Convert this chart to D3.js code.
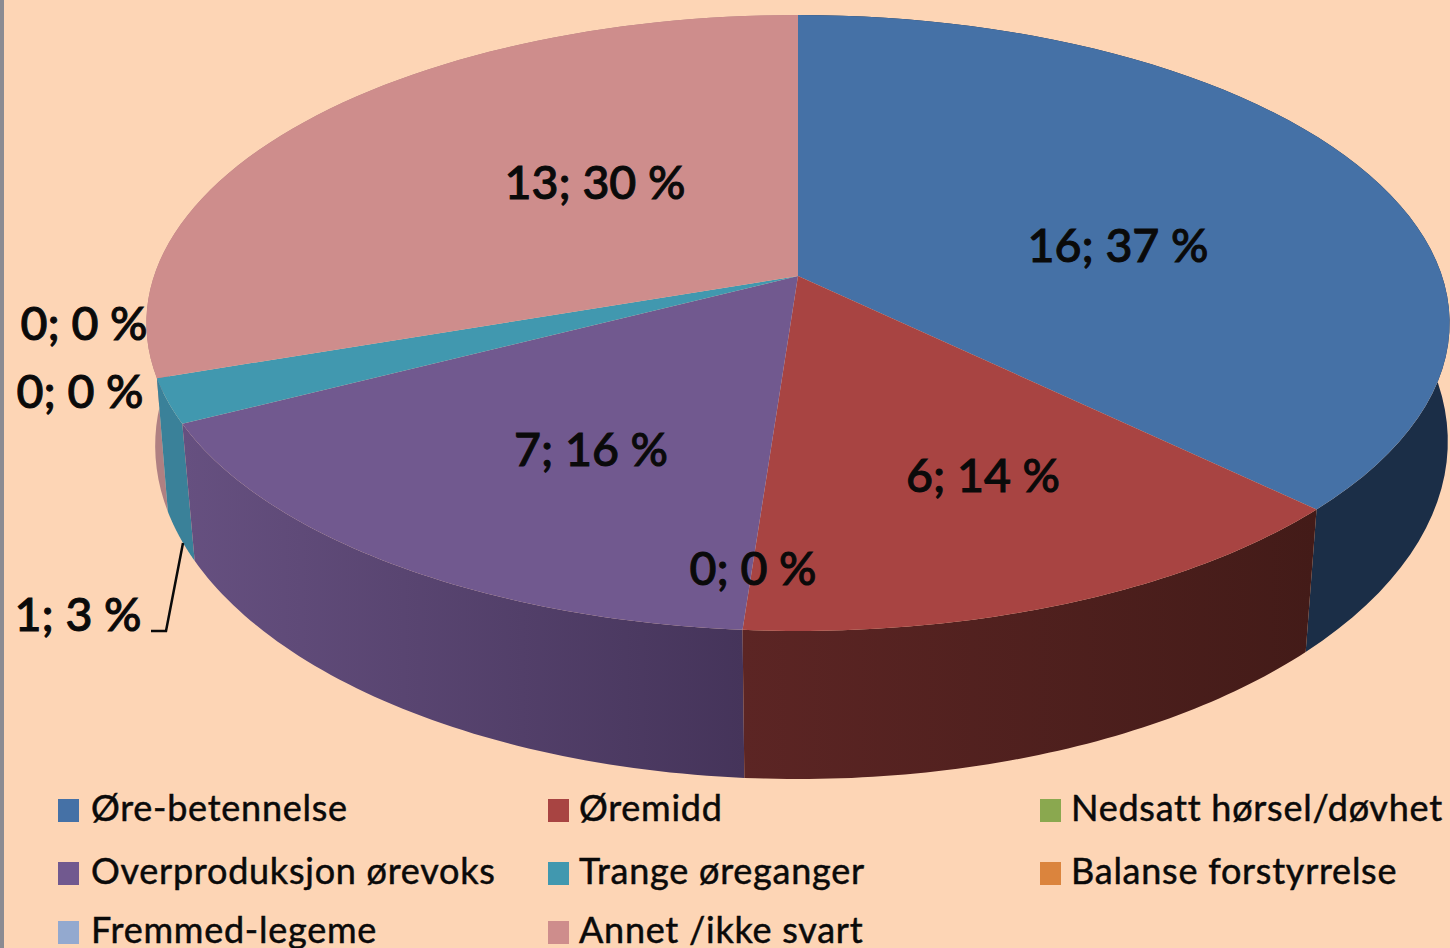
<!DOCTYPE html>
<html><head><meta charset="utf-8">
<script src="https://cdnjs.cloudflare.com/ajax/libs/d3/7.8.5/d3.min.js"></script>
<style>html,body{margin:0;padding:0;background:#fdd5b5;overflow:hidden}svg{display:block}
text{font-family:Lato,"Open Sans",sans-serif;fill:#0a0a0a}</style></head><body>
<svg id="c" width="1450" height="948"></svg>
<script>
// Data
const categories=["Øre-betennelse","Øremidd","Nedsatt hørsel/døvhet","Overproduksjon ørevoks","Trange øreganger","Balanse forstyrrelse","Fremmed-legeme","Annet /ikke svart"];
const values=[16,6,0,7,1,0,0,13];
const percents=[37,14,0,16,3,0,0,30];
const topColors=["#4571a6","#a84442","#8aa84f","#71598f","#4198af","#db843d","#93a9cf","#ce8d8c"];
const sideLeft=["#1b2e47","#5c2524","#4f6030","#665080","#3a8199","#7d4a20","#586a88","#b08082"];
const sideRight=["#1b2e47","#431b18","#4f6030","#45345a","#3a8199","#7d4a20","#586a88","#b08082"];

// Layout
const W=1450,H=948;
const labelCentres=[[1118,246],[983,476],[753,569],[591,450],[78,615],[80,392],[84,324],[595,183]];
const legendSwatchX=[58,548,1040],legendTextX=[91,579,1071],legendRowY=[799,862,921];
const topDisc={cx:798,cy:276,sx:644,sy:300.8,k:0.1526,skew:0};
const botDisc={cx:802,cy:400.6,sx:641,sy:330,k:0.128,skew:-4};
const project=(d,a)=>{const u=Math.sin(a),v=-Math.cos(a),w=1-d.k*v;return[d.cx+d.sx*u/w+d.skew*v,d.cy+d.sy*v/w];};

const svg=d3.select("#c");
svg.append("rect").attr("width",W).attr("height",H).attr("fill","#fdd5b5");
svg.append("rect").attr("width",4).attr("height",H).attr("fill","#8b8b92");
const defs=svg.append("defs");
const arcs=d3.pie().sort(null).startAngle(0).endAngle(2*Math.PI)(values);
const samples=(a0,a1)=>d3.range(0,61).map(i=>a0+(a1-a0)*i/60);
const line=d3.line();

// side walls, back to front
const sideOrder=[7,0,4,3,1];
sideOrder.forEach(i=>{
  const s=arcs[i],ang=samples(s.startAngle,s.endAngle);
  const t=ang.map(a=>project(topDisc,a)),b=ang.map(a=>project(botDisc,a)).reverse();
  const ext=d3.extent(t.concat(b),p=>p[0]);
  const id="side"+i;
  const g=defs.append("linearGradient").attr("id",id).attr("gradientUnits","userSpaceOnUse")
    .attr("x1",ext[0]).attr("x2",ext[1]).attr("y1",0).attr("y2",0);
  g.append("stop").attr("offset",0).attr("stop-color",sideLeft[i]);
  g.append("stop").attr("offset",1).attr("stop-color",sideRight[i]);
  svg.append("path").attr("d",line(t.concat(b))+"Z").attr("fill",`url(#${id})`);
});

// top face
arcs.forEach((s,i)=>{
  if(!s.value)return;
  const pts=[[topDisc.cx,topDisc.cy]].concat(samples(s.startAngle,s.endAngle).map(a=>project(topDisc,a)));
  svg.append("path").attr("d",line(pts)+"Z").attr("fill",topColors[i]);
});

// leader line
const leaderPts=[[183,543],[166,631],[151,631]];
svg.append("path").attr("d",line(leaderPts)).attr("fill","none").attr("stroke","#0a0a0a").attr("stroke-width",2.5);

// data labels
values.forEach((v,i)=>{
  svg.append("text").attr("x",labelCentres[i][0]).attr("y",labelCentres[i][1]+16)
    .attr("text-anchor","middle").attr("font-size",46.5).attr("font-weight",500)
    .attr("stroke","#0a0a0a").attr("stroke-width",1)
    .text(`${v}; ${percents[i]} %`);
});

// legend
categories.forEach((c,i)=>{
  const col=i%3,row=Math.floor(i/3),y=legendRowY[row];
  svg.append("rect").attr("x",legendSwatchX[col]).attr("y",y).attr("width",21).attr("height",23).attr("fill",topColors[i]);
  svg.append("text").attr("x",legendTextX[col]).attr("y",y+22).attr("font-size",36).attr("letter-spacing",0.75)
    .attr("stroke","#0a0a0a").attr("stroke-width",0.5).text(c);
});
</script></body></html>
